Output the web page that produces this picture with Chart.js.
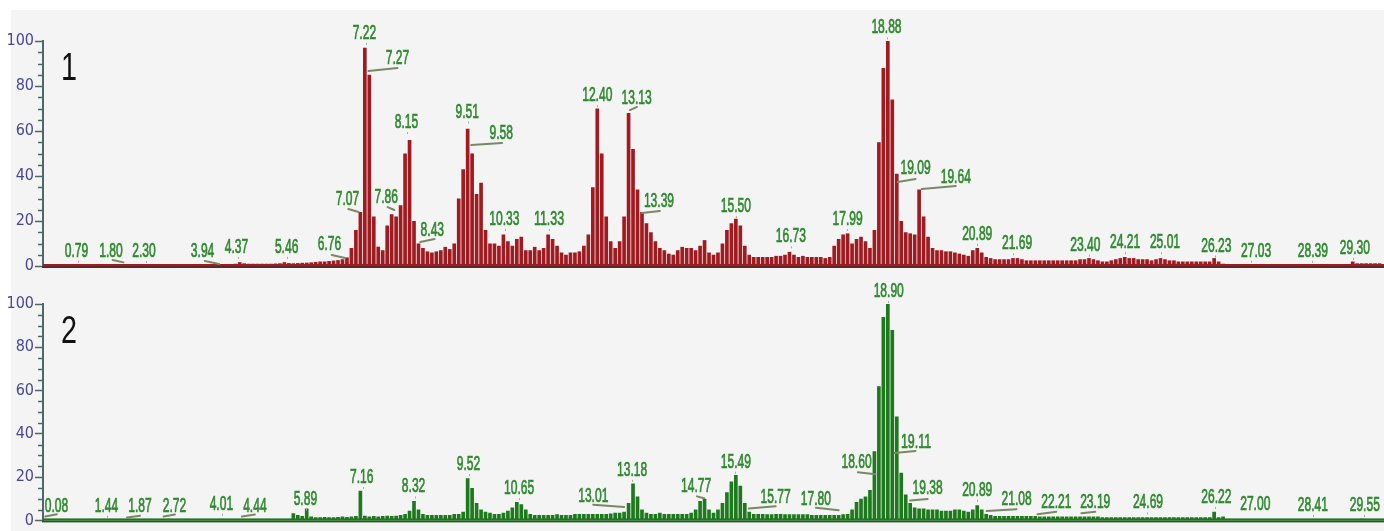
<!DOCTYPE html>
<html><head><meta charset="utf-8">
<script src="https://cdn.jsdelivr.net/npm/chart.js@4.4.1/dist/chart.umd.min.js"></script>
<style>
html,body{margin:0;padding:0;background:#fff;width:1384px;height:531px;overflow:hidden}
#bg{position:absolute;left:11px;top:10px;width:1373px;height:521px;background:#f4f4f4}
.box{position:absolute;left:0;width:1384px}
#b1{top:0;height:280px}
#b2{top:265px;height:266px}
</style></head><body>
<div id="bg"></div>
<div class="box" id="b1"><canvas id="c1" width="1384" height="280"></canvas></div>
<div class="box" id="b2"><canvas id="c2" width="1384" height="266"></canvas></div>
<script>
// ---- data (retention time grid, minutes; relative abundance %) ----
const STEP = 0.1;
const run1Values = [
 0.6,0.6,0.6,0.6,0.6,0.6,0.6,0.6,0.7,0.6,
 0.6,0.6,0.6,0.6,0.6,0.6,0.6,0.6,0.7,0.6,
 0.6,0.6,0.6,0.7,0.6,0.6,0.6,0.6,0.6,0.6,
 0.6,0.6,0.6,0.6,0.6,0.6,0.7,0.7,0.8,0.9,
 0.8,0.8,0.9,1.0,1.7,1.2,1.0,1.0,1.0,1.0,
 1.0,1.0,1.1,1.2,1.7,1.3,1.2,1.3,1.4,1.5,
 1.6,1.8,2.0,2.0,2.2,2.4,2.6,3.0,3.8,8.0,
 16,24,97,85,22,8.6,7,18,23,22,
 27,50,56,20,10,8,6.5,6,6.5,7,
 8.5,7.5,10,30,43,61,50,32,37,16,
 10,10,9,14,11,9,12,13,7,7,
 8.5,7,8,14,12,9,6,5,6,6,
 6.5,9,14,35,70,50,22,11,8,11,
 22,68,52,34,24,19,15,11,8,7,
 5.5,5,7,8.5,8,8,7,9,11.5,6,
 5,6,10,16,19,21,18,9,5,4,
 4,4,4,4,4.5,4.5,5,6.3,5,4,
 4.5,4,4,4,4,3.5,4,9,12,14,
 14.5,10,12,13,11,8,16,55,88,100,
 74,41,20,15,14.5,14,34,22,13,8,
 7,7,6.5,6.5,6,5.5,5,4.5,7,8,
 6,4,3.5,3,3,3,3,3.5,3.5,3,
 2.5,2.5,2.5,2.5,2.5,2.5,2.5,2.5,2.5,2.5,
 2.5,2.5,3,3,3.5,3,2.5,2,2,2.5,
 3,3.5,4,3.5,3.5,3,3,3,2.5,3,
 3.5,3,2.5,2.5,2,2,2,2,2,2,
 2,2,3.5,2,1,0.8,0.8,0.8,0.8,0.8,
 0.8,0.8,0.8,0.8,0.8,0.8,0.8,0.8,0.8,0.8,
 0.8,0.8,0.8,0.8,0.8,0.8,0.8,0.8,0.8,0.8,
 0.8,0.8,0.8,2,1.2,1.2,1.2,1.2,1.2,1.2
];
const run2Values = [
 0.5,0.5,0.5,0.5,0.5,0.5,0.5,0.5,0.5,0.5,
 0.5,0.5,0.5,0.5,0.5,0.5,0.5,0.5,0.5,0.5,
 0.5,0.5,0.5,0.5,0.5,0.5,0.5,0.5,0.5,0.5,
 0.5,0.5,0.5,0.5,0.5,0.5,0.5,0.5,0.5,0.5,
 0.5,0.5,0.5,0.5,0.5,0.5,0.5,0.5,0.5,0.5,
 0.5,0.5,0.5,0.5,0.6,0.6,3.3,2.5,2,5.5,
 1.8,1.5,1.5,1.6,1.5,1.5,1.6,1.8,1.6,1.8,
 2,13.7,2.2,1.8,2,1.8,2,2.2,2,2.2,
 2.5,3,4.5,9,5,3,2.5,2.5,2.5,2.5,
 2.5,2.5,3,3,4,19.5,15,8,5,4,
 3.5,3,3,3.5,4.5,6,8.5,7.5,5,3,
 2.5,2.5,2.5,2.5,2.5,2.8,2.5,2.5,2.5,3,
 3,3,3,3,3,3,3,3.2,3.5,3.5,
 4,8,17,11,5,3.5,3,3,3.5,3,
 3,3,3,3,3,3.5,5,9,10,5,
 3.5,5,8,13,18,21,16,8,4,3,
 3,3,2.8,2.8,3,3,2.8,2.8,2.8,2.8,
 2.8,2.8,2.5,2.5,2.5,2.5,2.5,2.5,2.5,2.8,
 3,5,8.5,10,11,14,32,62,94,100,
 88,48,22,12,8,6,5.5,5.5,5,5,
 5,4.5,4.5,4.5,5,5,4.5,4,5,7,
 5,3,2.5,2,2,2,2,2,2,2,
 2,2,2,1.8,1.8,1.8,1.8,1.8,1.8,1.8,
 1.8,1.8,1.8,1.8,1.8,1.8,1.8,1.5,1.5,1.5,
 1.5,1.5,1.5,1.5,1.5,1.5,1.5,1.5,1.5,1.5,
 1.5,1.5,1.5,1.5,1.5,1.5,1.5,1.5,1.5,1.5,
 1.5,1.5,4,1.5,1.8,0.6,0.6,0.6,0.6,0.6,
 0.6,0.6,0.6,0.6,0.6,0.6,0.6,0.6,0.6,0.6,
 0.6,0.6,0.6,0.6,0.6,0.6,0.6,0.6,0.6,0.6,
 0.6,0.6,0.6,0.6,0.6,0.8,0.6,0.6,0.6,0.6
];
const times = run1Values.map((_, i) => Math.round(i * STEP * 100) / 100);
const yTicks = [0, 20, 40, 60, 80, 100];

// peak labels (retention times) and where each label sits [time, value]
const peakNames1 = ['0.79','1.80','2.30','3.94','4.37','5.46','6.76','7.07','7.22','7.27','7.86','8.15','8.43','9.51','9.58','10.33','11.33','12.40','13.13','13.39','15.50','16.73','17.99','18.88','19.09','19.64','20.89','21.69','23.40','24.21','25.01','26.23','27.03','28.39','29.30'];
const labelAt1 = [[0.75,4.1],[1.52,4],[2.26,4],[3.57,4],[4.33,5.8],[5.45,5.8],[6.41,7.1],[6.81,27],[7.19,101],[7.93,89.8],[7.68,28],[8.13,61.3],[8.71,13.3],[9.49,66],[10.25,56.3],[10.32,18.2],[11.32,18.2],[12.40,73.3],[13.28,71.9],[13.78,26.4],[15.50,23.9],[16.73,10.5],[18.00,18.2],[18.87,103.4],[19.52,40.9],[20.42,37],[20.90,11.6],[21.79,7.4],[23.32,6.8],[24.21,7.9],[25.10,7.9],[26.25,6.4],[27.14,4.1],[28.41,4.1],[29.35,5.3]];
const leaders1 = [[1.56,2.7,1.80,1.6],[3.62,2.2,3.94,0.9],[6.46,4.9,6.76,3.6],[6.83,25.3,7.06,24],[7.28,86.7,7.93,88],[7.71,26.2,7.86,24.9],[8.44,10.7,8.76,12],[9.58,53.8,10.27,54.7],[13.13,69.3,13.29,70.7],[13.40,23.6,13.80,24.4],[19.12,37.3,19.52,38.7],[19.66,34.2,20.42,35.6]];

const peakNames2 = ['0.08','1.44','1.87','2.72','4.01','4.44','5.89','7.16','8.32','9.52','10.65','13.01','13.18','14.77','15.49','15.77','17.80','18.60','18.90','19.11','19.38','20.89','21.08','22.21','23.19','24.69','26.22','27.00','28.41','29.55'];
const labelAt2 = [[0.30,4],[1.42,4],[2.17,4],[2.94,4],[3.99,4.9],[4.74,4],[5.87,7.3],[7.13,17.3],[8.29,12.9],[9.52,23.3],[10.65,12.1],[12.31,8.7],[13.18,20.6],[14.61,12.9],[15.50,24.4],[16.39,8.1],[17.29,7.3],[18.20,24],[18.92,103.2],[19.53,33.6],[19.79,12.1],[20.90,11.4],[21.78,7.3],[22.67,5.5],[23.54,5.5],[24.72,5.5],[26.25,8.1],[27.12,4.7],[28.41,4.3],[29.57,4.3]];
const leaders2 = [[0.05,1.8,0.31,2.8],[1.88,1.3,2.17,2.2],[2.70,1.8,2.95,2.7],[4.45,1.8,4.74,2.7],[12.31,7.2,13.00,6.2],[14.63,11.1,14.79,10.2],[15.79,5.5,16.39,6.5],[17.29,5.8,17.80,4.7],[18.23,22.2,18.62,21.3],[19.05,31.1,19.52,32.1],[19.40,9.2,19.79,9.9],[21.11,4.3,21.78,5.2],[22.25,2.8,22.67,4.0],[23.23,3.3,23.54,4.0]];

// ---- drawing ----
const AXIS = '#4e6868';
const TEXT_GREEN = '#2d892d';
const LEADER = '#7a8866';
const LABEL_FONT = "'Liberation Sans','Arial',sans-serif";
const TICK_FONT = "'Liberation Sans Narrow','DejaVu Sans Condensed','Liberation Sans',sans-serif";

function narrowText(ctx, txt, x, y, size, perChar, color, boldness) {
  ctx.save();
  ctx.font = size + 'px ' + LABEL_FONT;
  ctx.fillStyle = color;
  ctx.strokeStyle = color;
  const w = ctx.measureText(txt).width;
  const n = txt.replace('.', '').length;
  const target = n * perChar + (txt.indexOf('.') >= 0 ? perChar * 0.5 : 0);
  const sx = target / w;
  ctx.translate(x, y);
  ctx.scale(sx, 1);
  ctx.textAlign = 'center';
  ctx.textBaseline = 'alphabetic';
  ctx.fillText(txt, 0, 0);
  if (boldness) { ctx.lineWidth = boldness; ctx.strokeText(txt, 0, 0); }
  ctx.restore();
}

const peakPlugin = {
  id: 'peaks',
  afterDraw(chart, args, o) {
    const ctx = chart.ctx, xs = chart.scales.x, ys = chart.scales.y, ca = chart.chartArea;
    ctx.save();
    // minor y ticks
    ctx.strokeStyle = AXIS; ctx.lineWidth = 1.5;
    for (let v = 5; v < 100; v += 5) {
      if (v % 20 === 0) continue;
      const y = Math.round(ys.getPixelForValue(v)) + 0.5;
      ctx.beginPath(); ctx.moveTo(ca.left - 5, y); ctx.lineTo(ca.left, y); ctx.stroke();
    }
    // baseline in series colour + axis line
    ctx.fillStyle = o.color;
    ctx.fillRect(ca.left, ca.bottom - 2, ca.right - ca.left, 2);
    ctx.fillStyle = o.axisColor;
    ctx.fillRect(ca.left - 1, ca.bottom, ca.right - ca.left + 1, 2);
    // leader lines
    ctx.strokeStyle = LEADER; ctx.lineWidth = 2; ctx.lineCap = 'round';
    o.leaders.forEach(l => {
      ctx.beginPath();
      ctx.moveTo(xs.getPixelForValue(l[0]), ys.getPixelForValue(l[1]));
      ctx.lineTo(xs.getPixelForValue(l[2]), ys.getPixelForValue(l[3]));
      ctx.stroke();
    });
    // labels
    o.names.forEach((txt, i) => {
      const p = o.pos[i];
      const x = xs.getPixelForValue(p[0]), y = ys.getPixelForValue(p[1]);
      narrowText(ctx, txt, x, y, 20, 6.7, TEXT_GREEN, 0.7);
      const pt = parseFloat(txt);
      if (Math.abs(pt - p[0]) < 0.12) {
        ctx.fillStyle = '#a8a8a8';
        ctx.fillRect(Math.round(xs.getPixelForValue(pt)), y + 4, 1, 2);
      }
    });
    // panel number
    narrowText(ctx, o.panel, o.panelX, o.panelY, 38, 16, '#111', 0);
    ctx.restore();
  }
};

function makeChart(id, values, color, axisColor, names, pos, leaders, panel, panelY, padTop, padBottom) {
  return new Chart(document.getElementById(id), {
    type: 'bar',
    data: { labels: times, datasets: [{ data: values, backgroundColor: color, borderWidth: 0, barPercentage: 1, categoryPercentage: 0.82 }] },
    options: {
      responsive: false, animation: false, devicePixelRatio: 1,
      layout: { padding: { top: padTop, bottom: padBottom, left: 0, right: 0 } },
      plugins: {
        legend: { display: false }, tooltip: { enabled: false },
        peaks: { names, pos, leaders, color, axisColor, panel, panelX: 69, panelY }
      },
      scales: {
        x: { type: 'linear', min: 0, max: 30, offset: false, display: false, grid: { offset: false } },
        y: {
          min: 0, max: 100,
          afterFit(s) { s.width = 43; },
          afterBuildTicks(s) { s.ticks = yTicks.map(v => ({ value: v })); },
          border: { display: true, color: AXIS, width: 2 },
          grid: { display: true, drawOnChartArea: false, tickLength: 8, color: AXIS, tickWidth: 1.5 },
          ticks: { color: '#47469a', padding: 1, font: { family: TICK_FONT, size: 16 } }
        }
      }
    },
    plugins: [peakPlugin]
  });
}

makeChart('c1', run1Values, '#a01a20', '#5a2a2a', peakNames1, labelAt1, leaders1, '1', 80, 41, 14);
makeChart('c2', run2Values, '#1c7a1c', '#1f5a1f', peakNames2, labelAt2, leaders2, '2', 78, 39, 2);
</script>
</body></html>
